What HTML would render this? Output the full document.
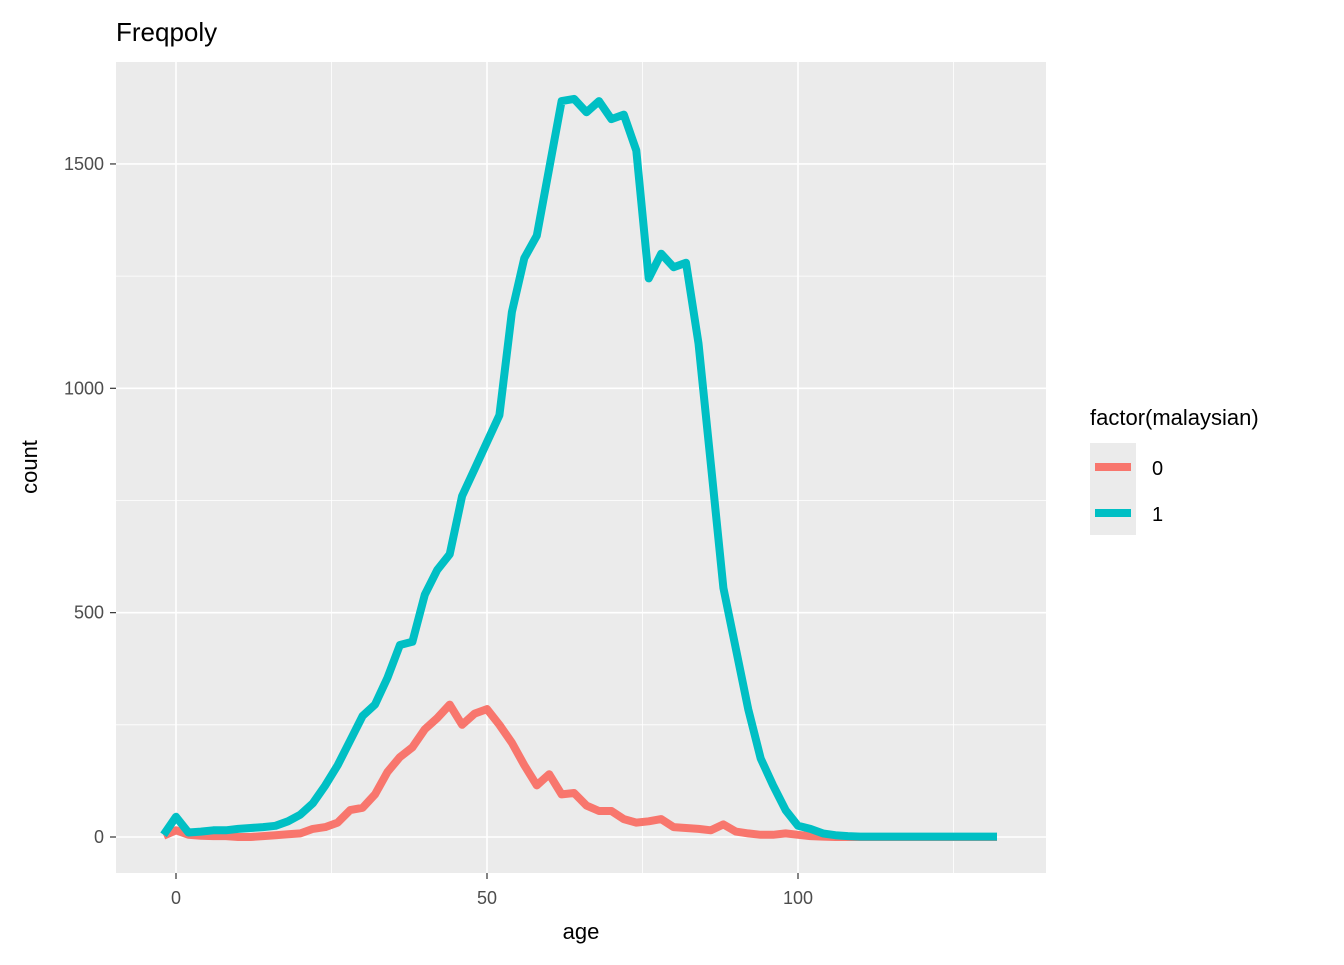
<!DOCTYPE html>
<html><head><meta charset="utf-8"><style>
body{margin:0;background:#fff;font-family:"Liberation Sans",Arial,sans-serif;}
</style></head><body>
<svg id="chart" width="1344" height="960" xmlns="http://www.w3.org/2000/svg" font-family="Liberation Sans, Arial, sans-serif">
<text x="116" y="41" font-size="26" fill="#000">Freqpoly</text>
<rect x="116" y="62" width="930" height="811" fill="#EBEBEB"/>
<g id="grid"></g>
<g id="series"></g>
<g id="axes"></g>
<text x="581" y="939" font-size="22" text-anchor="middle">age</text>
<text transform="translate(37,467) rotate(-90)" font-size="22" text-anchor="middle">count</text>
<g>
<text x="1090" y="425" font-size="22">factor(malaysian)</text>
<rect x="1090" y="443" width="46" height="92" fill="#EBEBEB"/>
<line x1="1095" x2="1131" y1="467" y2="467" stroke="#F8766D" stroke-width="8"/>
<line x1="1095" x2="1131" y1="513" y2="513" stroke="#00BFC4" stroke-width="8"/>
<text x="1152" y="475" font-size="20">0</text>
<text x="1152" y="521" font-size="20">1</text>
</g>
</svg>
<script>
const ages = [];
for (let a = -2; a <= 132; a += 2) ages.push(a);
const seriesNames = ["0", "1"];
const counts0 = [3,15,5,3,2,2,0,0,2,4,6,8,18,22,32,60,65,95,145,178,200,240,265,295,250,275,285,250,210,160,115,140,95,98,70,58,58,40,32,35,40,22,20,18,15,28,12,8,5,5,8,5,2,1,0,0,0,0,0,0,0,0,0,0,0,0,0,0];
const counts1 = [5,45,10,12,15,15,18,20,22,25,35,50,75,115,160,215,270,295,355,428,435,540,595,630,760,820,880,940,1170,1290,1340,1490,1640,1645,1615,1640,1600,1610,1530,1245,1300,1270,1280,1100,830,555,420,285,175,115,60,25,18,8,4,2,1,1,1,1,1,1,1,1,1,1,1,1];
const xTicks = [0,50,100];
const xMinor = [25,75,125];
const yTicks = [0,500,1000,1500];
const yMinor = [250,750,1250];
const NS = "http://www.w3.org/2000/svg";
const xs = v => 176 + v * 6.22;
const ys = v => 837 - v * 0.4487;
function mk(tag, attrs, parent){const e=document.createElementNS(NS,tag);for(const k in attrs)e.setAttribute(k,attrs[k]);parent.appendChild(e);return e;}
const grid=document.getElementById('grid'), axes=document.getElementById('axes'), ser=document.getElementById('series');
xMinor.forEach(v=>{const l=mk('line',{x1:xs(v),x2:xs(v),y1:62,y2:873,stroke:'#fff','stroke-width':0.8},grid);

});
yMinor.forEach(v=>{const l=mk('line',{x1:116,x2:1046,y1:ys(v),y2:ys(v),stroke:'#fff','stroke-width':0.8},grid);

});
xTicks.forEach(v=>{const l=mk('line',{x1:xs(v),x2:xs(v),y1:62,y2:873,stroke:'#fff','stroke-width':1.6},grid);


const t=mk('line',{x1:xs(v),x2:xs(v),y1:873,y2:879,stroke:'#333','stroke-width':1.2},axes);


const tx=mk('text',{x:xs(v),y:904,'font-size':18,fill:'#4D4D4D','text-anchor':'middle'},axes);tx.textContent=v;

});
yTicks.forEach(v=>{const l=mk('line',{x1:116,x2:1046,y1:ys(v),y2:ys(v),stroke:'#fff','stroke-width':1.6},grid);


const t=mk('line',{x1:110,x2:116,y1:ys(v),y2:ys(v),stroke:'#333','stroke-width':1.2},axes);


const tx=mk('text',{x:104,y:ys(v)+6,'font-size':18,fill:'#4D4D4D','text-anchor':'end'},axes);tx.textContent=v;

});
[[counts0,'#F8766D','series-0-line'],[counts1,'#00BFC4','series-1-line']].forEach(([c,col,name])=>{
const d=c.map((v,i)=>(i?'L':'M')+xs(ages[i]).toFixed(1)+','+ys(v).toFixed(1)).join('');
const p=mk('path',{d:d,fill:'none',stroke:col,'stroke-width':8,'stroke-linejoin':'round'},ser);

});
</script>
</body></html>
